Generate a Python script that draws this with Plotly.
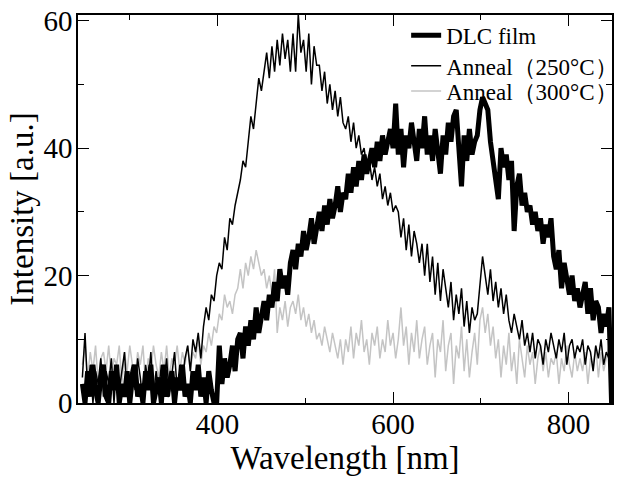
import plotly.graph_objects as go

# Wavelength grid [nm], 3 nm steps from 246 to 849
wavelength = list(range(246, 850, 3))

dlc_film = [
    3, 0, 5, 1, 6, 2, 0, 4, 6, 1,
    0, 5, 2, 6, 0, 3, 1, 5, 0, 4,
    6, 1, 3, 0, 5, 2, 6, 0, 2, 4,
    0, 6, 1, 3, 5, 0, 4, 2, 6, 1,
    3, 0, 5, 2, 6, 1, 4, 0, 5, 2,
    0, 0, 9, 3, 7, 4, 6, 9, 5, 10,
    11, 7, 12, 9, 13, 10, 15, 11, 14, 16,
    13, 17, 15, 19, 16, 21, 18, 20, 17, 22,
    24, 21, 25, 23, 27, 24, 26, 29, 25, 28,
    30, 27, 31, 28, 32, 29, 31, 34, 30, 33,
    32, 36, 33, 37, 34, 38, 35, 39, 36, 38,
    40, 37, 41, 38, 42, 39, 41, 43, 40, 47,
    39, 43, 37, 42, 40, 44, 41, 38, 43, 40,
    45, 39, 42, 38, 43, 40, 36, 42, 39, 44,
    41, 45, 46, 40, 34, 42, 38, 43, 39, 41,
    42, 46, 48, 47, 46, 41, 38, 36, 32, 40,
    37, 39, 35, 38, 27, 34, 36, 31, 33, 30,
    31, 28, 30, 27, 29, 25, 28, 26, 29, 23,
    21, 24, 18, 22, 19, 17, 20, 16, 18, 15,
    17, 19, 14, 18, 13, 16, 15, 11, 14, 12,
    15, 0,
]

anneal_250 = [
    4, 11, 2, 6, 0, 5, 3, 7, 1, 5,
    3, 7, 0, 6, 2, 5, 8, 1, 4, 6,
    2, 7, 4, 0, 6, 3, 8, 1, 5, 2,
    6, 3, 7, 1, 5, 8, 2, 6, 4, 7,
    9, 5, 10, 8, 11, 7, 12, 15, 13, 17,
    16, 20, 22, 21, 26, 24, 29, 28, 31, 33,
    35, 38, 37, 41, 45, 43, 47, 51, 49, 52,
    55, 51, 56, 52, 57, 53, 58, 54, 57, 52,
    58, 52, 61, 55, 57, 52, 58, 50, 56, 53,
    53, 49, 52, 47, 50, 46, 49, 45, 48, 44,
    43, 45, 41, 44, 40, 42, 39, 40, 37, 38,
    35, 37, 34, 36, 32, 34, 31, 33, 30, 31,
    30, 26, 29, 24, 28, 23, 27, 25, 22, 25,
    20, 25, 19, 23, 17, 22, 16, 21, 18, 15,
    19, 13, 17, 14, 18, 12, 16, 11, 15, 13,
    14, 18, 23, 20, 17, 21, 16, 19, 15, 18,
    14, 17, 13, 11, 14, 12, 10, 13, 9, 11,
    8, 11, 7, 10, 9, 6, 10, 8, 11, 9,
    7, 10, 8, 11, 6, 9, 10, 7, 9, 8,
    10, 6, 9, 8, 5, 9, 7, 10, 6, 8,
    7, 6,
]

anneal_300 = [
    6, 9, 4, 8, 5, 9, 3, 7, 8, 5,
    9, 4, 7, 6, 9, 3, 8, 5, 9, 6,
    4, 8, 6, 9, 3, 7, 5, 9, 6, 4,
    8, 5, 9, 4, 7, 6, 9, 5, 8, 6,
    9, 5, 8, 7, 10, 6, 9, 8, 11, 9,
    12, 11, 14, 13, 17, 15, 16, 14, 17, 18,
    21, 18, 22, 20, 23, 21, 24, 22, 20, 21,
    18, 20, 17, 21, 11, 15, 13, 16, 12, 15,
    16, 14, 17, 13, 15, 12, 14, 11, 13, 10,
    11, 9, 12, 10, 8, 11, 9, 7, 10, 6,
    10, 8, 12, 7, 11, 9, 13, 8, 10, 6,
    11, 9, 12, 7, 10, 8, 13, 9, 11, 7,
    10, 15, 9, 12, 6, 11, 8, 13, 7, 10,
    12, 6, 9, 11, 4, 10, 8, 13, 5, 9,
    11, 3, 9, 7, 12, 5, 10, 4, 8, 11,
    6, 13, 15, 11, 14, 9, 12, 7, 10, 4,
    9, 6, 11, 5, 8, 3, 10, 7, 4, 9,
    6, 8, 3, 7, 9, 5, 8, 4, 7, 6,
    8, 3, 7, 5, 9, 6, 4, 8, 5, 7,
    5, 8, 3, 7, 6, 9, 4, 8, 5, 7,
    9, 6,
]

series_names = ["DLC film", "Anneal（250°C）", "Anneal（300°C）"]

font_family = "Liberation Serif"

fig = go.Figure()
fig.add_trace(go.Scatter(x=wavelength, y=anneal_300, mode="lines", name=series_names[2],
                         line=dict(color="#c4c4c4", width=1.5), legend="legend3"))
fig.add_trace(go.Scatter(x=wavelength, y=dlc_film, mode="lines", name=series_names[0],
                         line=dict(color="black", width=5), legend="legend"))
fig.add_trace(go.Scatter(x=wavelength, y=anneal_250, mode="lines", name=series_names[1],
                         line=dict(color="black", width=1.5), legend="legend2"))

axis_common = dict(
    showline=True, linecolor="black", linewidth=1.5, mirror="ticks",
    ticks="inside", ticklen=11, tickwidth=1.2, tickcolor="black",
    showgrid=False, zeroline=False, automargin=False,
    tickfont=dict(family=font_family, size=29, color="black"),
)

legend_common = dict(x=0.6145, xanchor="left", yanchor="middle",
                     bgcolor="rgba(0,0,0,0)", font=dict(family=font_family, size=23))

fig.update_layout(
    width=630, height=480,
    margin=dict(l=78, r=7, t=15, b=77),
    paper_bgcolor="white", plot_bgcolor="white",
    font=dict(family=font_family, color="black"),
    showlegend=True,
    legend=dict(y=0.948, **legend_common),
    legend2=dict(y=0.869, **legend_common),
    legend3=dict(y=0.804, **legend_common),
)
fig.update_xaxes(range=[241, 849.5], dtick=200, tick0=0,
                 minor=dict(dtick=100, ticklen=5, ticks="inside", tickcolor="black"),
                 ticklabelstandoff=-6,
                 title=dict(text="Wavelength [nm]", font=dict(family=font_family, size=33), standoff=0),
                 **axis_common)
fig.update_yaxes(range=[0, 60.9], dtick=20, tick0=0,
                 minor=dict(dtick=10, ticklen=6, ticks="inside", tickcolor="black"),
                 ticklabelstandoff=-2,
                 title=dict(text="Intensity [a.u.]", font=dict(family=font_family, size=33), standoff=0),
                 **axis_common)

fig.write_html("out.html", config={"displayModeBar": False},
               post_script="document.body.style.margin='0';")
